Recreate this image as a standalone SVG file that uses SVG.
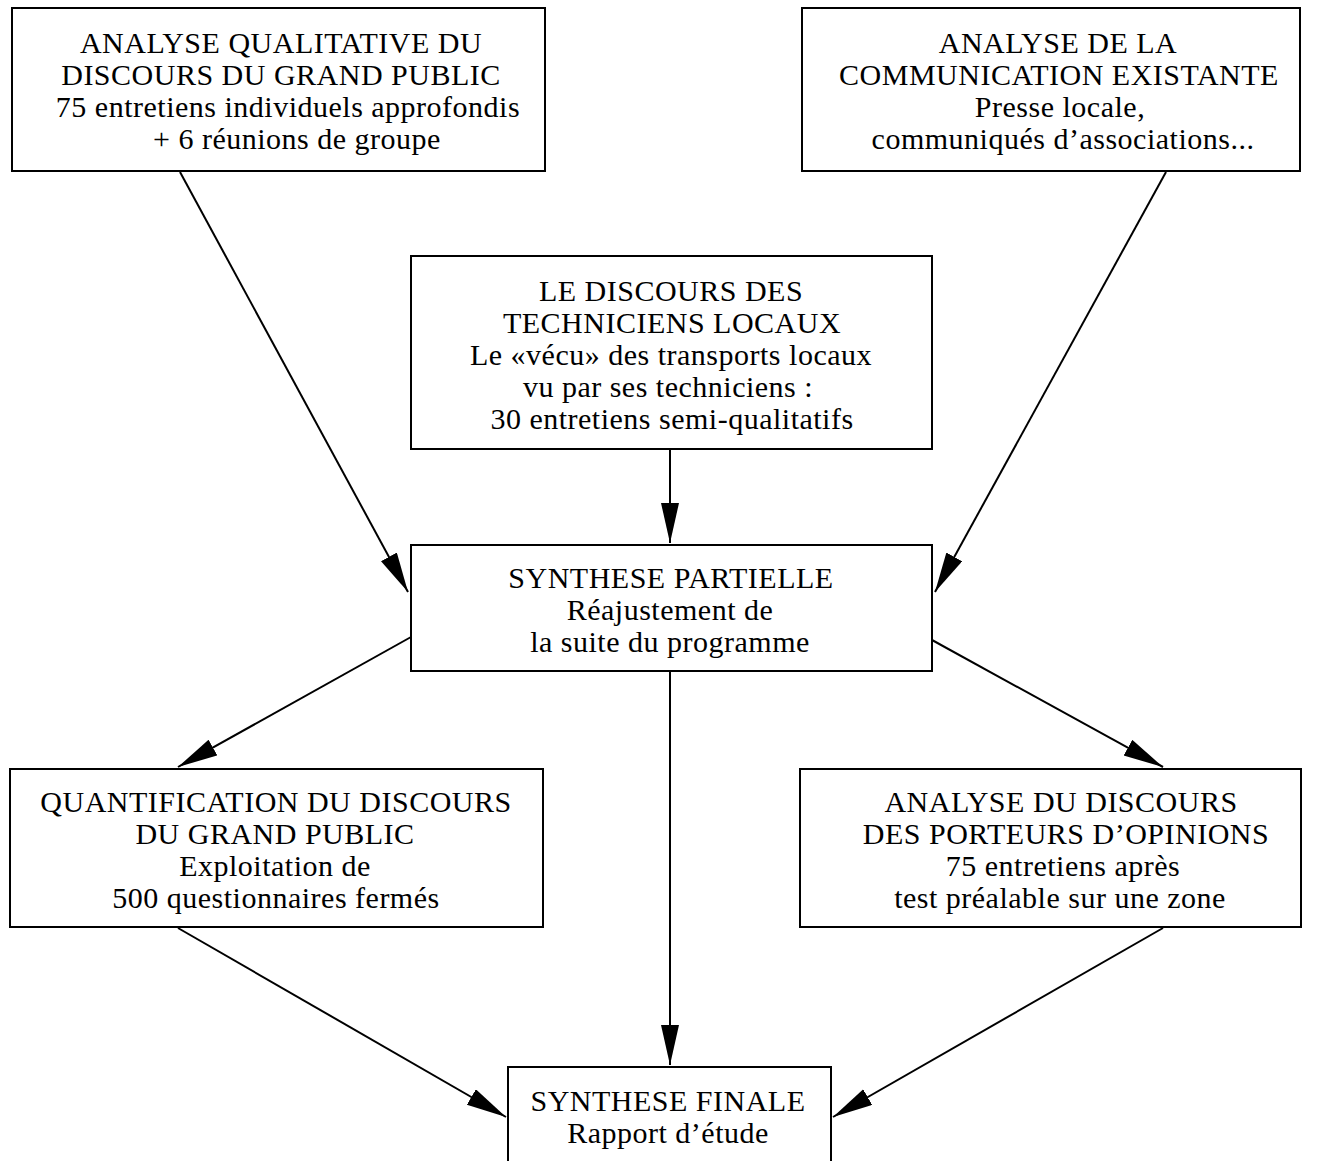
<svg xmlns="http://www.w3.org/2000/svg" width="1330" height="1161" viewBox="0 0 1330 1161">
<style>
.box{fill:#fff;stroke:#000;stroke-width:2}
.t{font-family:"Liberation Serif","Times New Roman",serif;font-size:30px;letter-spacing:0.5px;fill:#000;text-anchor:middle}
.c{stroke:#000;stroke-width:2;fill:none;marker-end:url(#ah)}
</style>
<defs>
<marker id="ah" markerUnits="userSpaceOnUse" markerWidth="42" markerHeight="20" refX="40" refY="9" orient="auto">
<path d="M0,0 L40,9 L0,18 Z" fill="#000"/>
</marker>
</defs>
<rect width="1330" height="1161" fill="#fff"/>
<g id="connectors">
<line class="c" x1="180" y1="172" x2="408" y2="592"/>
<line class="c" x1="1166" y1="172" x2="935" y2="592"/>
<line class="c" x1="670" y1="449" x2="670" y2="543"/>
<line class="c" x1="411" y1="637" x2="178" y2="767"/>
<line class="c" x1="932" y1="640" x2="1163" y2="767"/>
<line class="c" x1="670" y1="671" x2="670" y2="1065"/>
<line class="c" x1="178" y1="928" x2="506" y2="1117"/>
<line class="c" x1="1163" y1="928" x2="833" y2="1117"/>
</g>
<g id="n1">
<rect class="box" x="12" y="8" width="533" height="163"/>
<text class="t" x="281" y="53">ANALYSE QUALITATIVE DU</text>
<text class="t" x="281" y="85">DISCOURS DU GRAND PUBLIC</text>
<text class="t" x="288" y="117">75 entretiens individuels approfondis</text>
<text class="t" x="297" y="149">+ 6 réunions de groupe</text>
</g>
<g id="n2">
<rect class="box" x="802" y="8" width="498" height="163"/>
<text class="t" x="1058" y="53">ANALYSE DE LA</text>
<text class="t" x="1059" y="85">COMMUNICATION EXISTANTE</text>
<text class="t" x="1060" y="117">Presse locale,</text>
<text class="t" x="1063" y="149">communiqués d’associations...</text>
</g>
<g id="n3">
<rect class="box" x="411" y="256" width="521" height="193"/>
<text class="t" x="671" y="301">LE DISCOURS DES</text>
<text class="t" x="672" y="333">TECHNICIENS LOCAUX</text>
<text class="t" x="671" y="365">Le «vécu» des transports locaux</text>
<text class="t" x="668" y="397">vu par ses techniciens :</text>
<text class="t" x="672" y="429">30 entretiens semi-qualitatifs</text>
</g>
<g id="n4">
<rect class="box" x="411" y="545" width="521" height="126"/>
<text class="t" x="671" y="588">SYNTHESE PARTIELLE</text>
<text class="t" x="670" y="620">Réajustement de</text>
<text class="t" x="670" y="652">la suite du programme</text>
</g>
<g id="n5">
<rect class="box" x="10" y="769" width="533" height="158"/>
<text class="t" x="276" y="812">QUANTIFICATION DU DISCOURS</text>
<text class="t" x="275" y="844">DU GRAND PUBLIC</text>
<text class="t" x="275" y="876">Exploitation de</text>
<text class="t" x="276" y="908">500 questionnaires fermés</text>
</g>
<g id="n6">
<rect class="box" x="800" y="769" width="501" height="158"/>
<text class="t" x="1061" y="812">ANALYSE DU DISCOURS</text>
<text class="t" x="1066" y="844">DES PORTEURS D’OPINIONS</text>
<text class="t" x="1063" y="876">75 entretiens après</text>
<text class="t" x="1060" y="908">test préalable sur une zone</text>
</g>
<g id="n7">
<rect class="box" x="508" y="1067" width="323" height="110"/>
<text class="t" x="668" y="1111">SYNTHESE FINALE</text>
<text class="t" x="668" y="1143">Rapport d’étude</text>
</g>
</svg>
